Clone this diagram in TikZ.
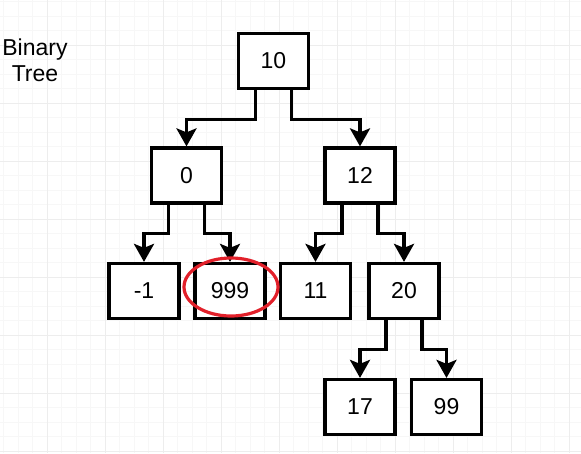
\documentclass[tikz,border=0pt]{standalone}
\usepackage{fontspec}
\setmainfont{Liberation Sans}
\usetikzlibrary{arrows.meta}

\begin{document}
\begin{tikzpicture}[x=1pt,y=-1pt,
  caja/.style={draw,fill=white,line width=3.2pt,minimum width=70pt,minimum height=55pt,
    font=\fontsize{23}{26}\selectfont},
  flecha/.style={line width=3.5pt,line join=miter,-{Stealth[length=18pt,width=20pt,inset=4pt]}}]
  \useasboundingbox (0,0) rectangle (581,453);
  % rejilla fina y gruesa
  \foreach \x in {3.5,18,...,581} \draw[black!3,line width=1pt] (\x,0) -- (\x,453);
  \foreach \y in {1.5,16,...,453} \draw[black!3,line width=1pt] (0,\y) -- (581,\y);
  \foreach \x in {47,105,...,581} \draw[black!7,line width=1pt] (\x,0) -- (\x,453);
  \foreach \y in {45,103,...,453} \draw[black!7,line width=1pt] (0,\y) -- (581,\y);
  % titulo
  \node[align=center,font=\fontsize{23}{26}\selectfont] (titulo) at (35,60) {Binary\\Tree};
  % nodos del arbol
  \node[caja] (n10) at (273.5,61) {10};
  \node[caja] (n0) at (186.5,175.5) {0};
  \node[caja] (n12) at (360,175.5) {12};
  \node[caja] (nm1) at (144,291) {-1};
  \node[caja] (n999) at (230,291) {999};
  \node[caja] (n11) at (315.5,291) {11};
  \node[caja] (n20) at (404,291) {20};
  \node[caja] (n17) at (360,407) {17};
  \node[caja] (n99) at (446.5,407) {99};
  % aristas (salen del borde inferior y bajan al hijo)
  \draw[flecha] ([xshift=-18pt]n10.south) -- ++(0,29.5) -| (n0.north);
  \draw[flecha] ([xshift=18pt]n10.south) -- ++(0,29.5) -| (n12.north);
  \draw[flecha] ([xshift=-18pt]n0.south) -- ++(0,29) -| (nm1.north);
  \draw[flecha] ([xshift=18pt]n0.south) -- ++(0,29) -| (n999.north);
  \draw[flecha] ([xshift=-18pt]n12.south) -- ++(0,29) -| (n11.north);
  \draw[flecha] ([xshift=18pt]n12.south) -- ++(0,29) -| (n20.north);
  \draw[flecha] ([xshift=-18pt]n20.south) -- ++(0,29.5) -| (n17.north);
  \draw[flecha] ([xshift=18pt]n20.south) -- ++(0,29.5) -| (n99.north);
  % marca roja
  \draw[line width=3.2pt,color={rgb,255:red,226;green,32;blue,42}] (231,287) ellipse (47 and 29);
\end{tikzpicture}
\end{document}
